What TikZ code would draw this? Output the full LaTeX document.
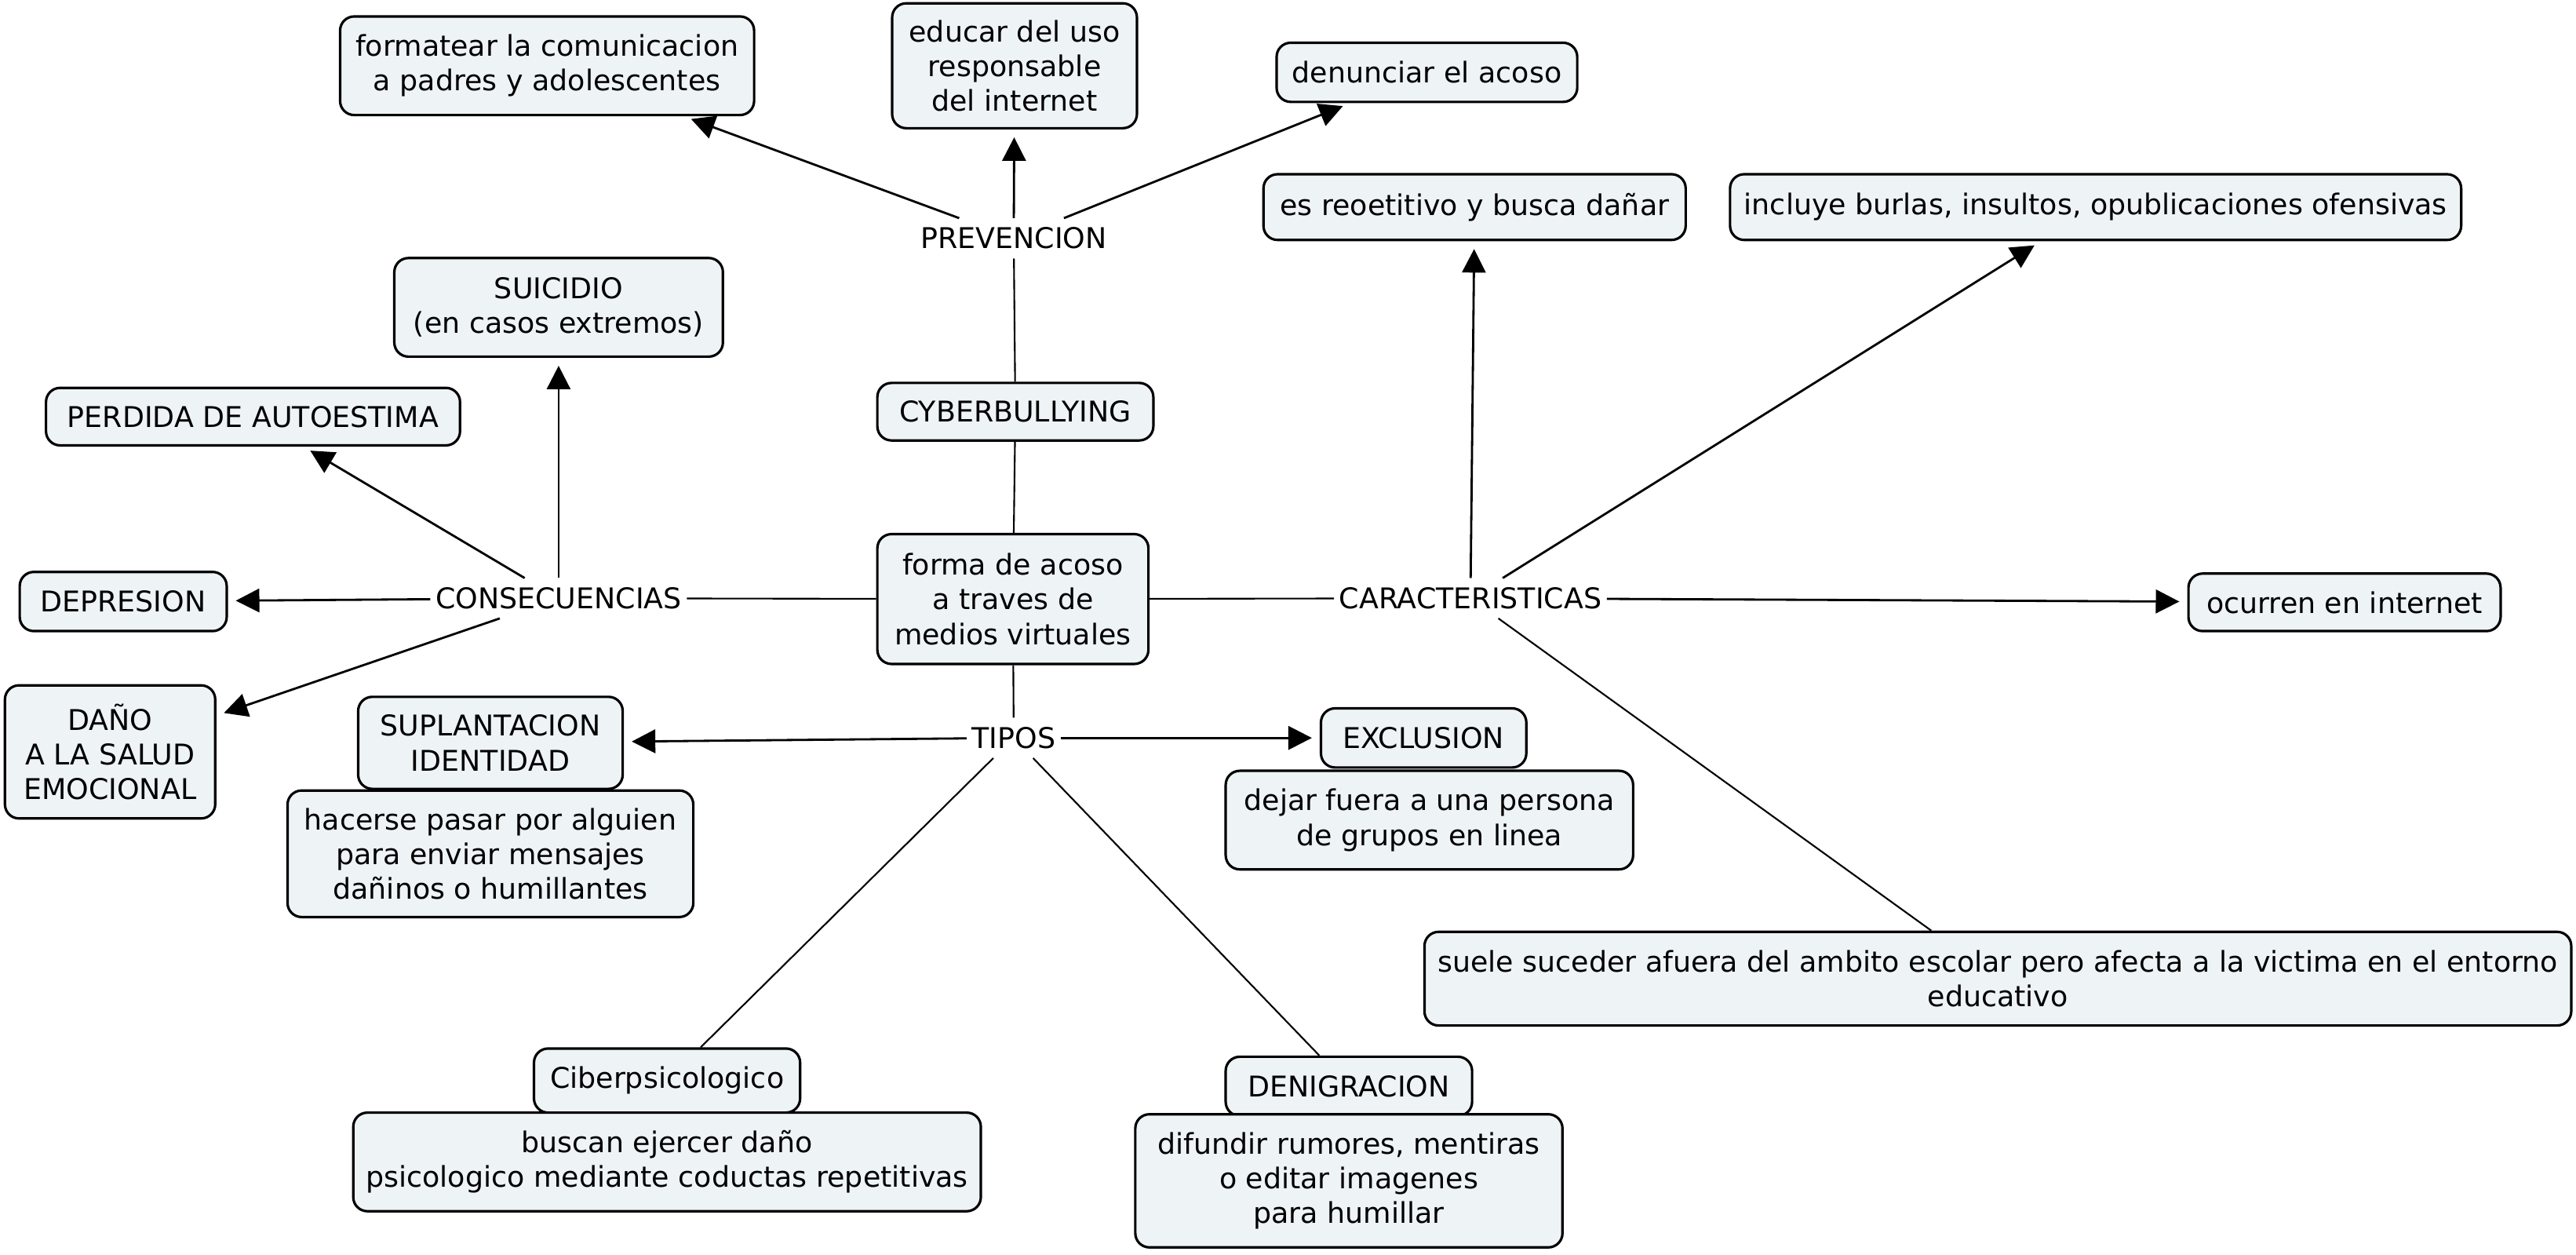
\documentclass[tikz,border=0pt]{standalone}
\usepackage{fontspec}
\setmainfont{DejaVu Sans}
\usetikzlibrary{arrows.meta}
\definecolor{boxfill}{RGB}{238,243,246}
\begin{document}
\begin{tikzpicture}[x=0.20938mm, y=-0.20938mm,
 cbox/.style={draw, line width=0.9pt, rounded corners=1.8mm, fill=boxfill, align=center, inner xsep=1mm, inner ysep=0.5mm, font=\fontsize{10.35}{12.6}\selectfont},
 lbl/.style={inner xsep=0.6mm, inner ysep=0mm, minimum height=5mm, font=\fontsize{10.35}{12.6}\selectfont},
 arr/.style={line width=0.8pt, -{Triangle[length=3mm,width=3mm]}, shorten >=1mm},
 ln/.style={line width=0.6pt}]
\fill[white] (0,0) rectangle (1567.9,763.2);
\useasboundingbox (0,0) rectangle (1567.9,763.2);
% top
\node[cbox, minimum width={252*0.20938mm}, minimum height={60*0.20938mm}] (form) at (333,40) {formatear la comunicacion\\a padres y adolescentes};
\node[cbox, minimum width={149*0.20938mm}, minimum height={76*0.20938mm}] (educar) at (617.5,40) {educar del uso\\responsable\\del internet};
\node[cbox, minimum width={183*0.20938mm}, minimum height={36*0.20938mm}] (denun) at (868.5,44) {denunciar el acoso};
\node[lbl] (prev) at (617,145) {PREVENCION};
\node[cbox, minimum width={257*0.20938mm}, minimum height={40*0.20938mm}] (reo) at (897.5,126) {es reoetitivo y busca dañar};
\node[cbox, minimum width={445*0.20938mm}, minimum height={40*0.20938mm}] (incl) at (1275.5,126) {incluye burlas, insultos, opublicaciones ofensivas};
\node[cbox, minimum width={200*0.20938mm}, minimum height={60*0.20938mm}] (suic) at (340,187) {SUICIDIO\\(en casos extremos)};
\node[cbox, minimum width={252*0.20938mm}, minimum height={35*0.20938mm}] (perd) at (154,253.5) {PERDIDA DE AUTOESTIMA};
\node[cbox, minimum width={168*0.20938mm}, minimum height={35*0.20938mm}] (cyber) at (618,250.5) {CYBERBULLYING};
% middle
\node[cbox, minimum width={165*0.20938mm}, minimum height={79*0.20938mm}] (forma) at (616.5,364.5) {forma de acoso\\a traves de\\medios virtuales};
\node[lbl] (cons) at (340,364) {CONSECUENCIAS};
\node[cbox, minimum width={126*0.20938mm}, minimum height={36*0.20938mm}] (depr) at (75,366) {DEPRESION};
\node[lbl] (carac) at (895,364) {CARACTERISTICAS};
\node[cbox, minimum width={190*0.20938mm}, minimum height={35*0.20938mm}] (ocur) at (1427,366.5) {ocurren en internet};
\node[cbox, minimum width={128*0.20938mm}, minimum height={81*0.20938mm}] (dano) at (67,457.5) {DAÑO\\A LA SALUD\\EMOCIONAL};
\node[lbl] (tipos) at (617,449) {TIPOS};
% types
\node[cbox, minimum width={161*0.20938mm}, minimum height={56*0.20938mm}] (supl) at (298.5,452) {SUPLANTACION\\IDENTIDAD};
\node[cbox, minimum width={247*0.20938mm}, minimum height={77*0.20938mm}] (hacer) at (298.5,519.5) {hacerse pasar por alguien\\para enviar mensajes\\dañinos o humillantes};
\node[cbox, minimum width={125*0.20938mm}, minimum height={36*0.20938mm}] (excl) at (866.5,449) {EXCLUSION};
\node[cbox, minimum width={248*0.20938mm}, minimum height={60*0.20938mm}] (dejar) at (870,499) {dejar fuera a una persona\\de grupos en linea};
\node[cbox, minimum width={698*0.20938mm}, minimum height={57*0.20938mm}] (suele) at (1216,595.5) {suele suceder afuera del ambito escolar pero afecta a la victima en el entorno\\educativo};
\node[cbox, minimum width={162*0.20938mm}, minimum height={39*0.20938mm}] (cibp) at (406,657.5) {Ciberpsicologico};
\node[cbox, minimum width={382*0.20938mm}, minimum height={60*0.20938mm}] (busc) at (406,707) {buscan ejercer daño\\psicologico mediante coductas repetitivas};
\node[cbox, minimum width={150*0.20938mm}, minimum height={36*0.20938mm}] (deni) at (821,661) {DENIGRACION};
\node[cbox, minimum width={260*0.20938mm}, minimum height={81*0.20938mm}] (difu) at (821,718.5) {difundir rumores, mentiras\\o editar imagenes\\para humillar};
% connectors
\draw[arr] (prev) -- (form);
\draw[arr] (prev) -- (educar);
\draw[arr] (prev) -- (denun);
\draw[ln] (cyber) -- (prev);
\draw[ln] (cyber) -- (forma);
\draw[ln] (forma) -- (cons);
\draw[arr] (cons) -- (suic);
\draw[arr] (cons) -- (perd);
\draw[arr] (cons) -- (depr);
\draw[arr] (cons) -- (dano);
\draw[ln] (forma) -- (carac);
\draw[arr] (carac) -- (reo);
\draw[arr] (carac) -- (incl);
\draw[arr] (carac) -- (ocur);
\draw[ln] (carac) -- (suele);
\draw[ln] (forma) -- (tipos);
\draw[arr] (tipos) -- (supl);
\draw[arr] (tipos) -- (excl);
\draw[ln] (tipos) -- (cibp);
\draw[ln] (tipos) -- (deni);
\end{tikzpicture}
\end{document}
